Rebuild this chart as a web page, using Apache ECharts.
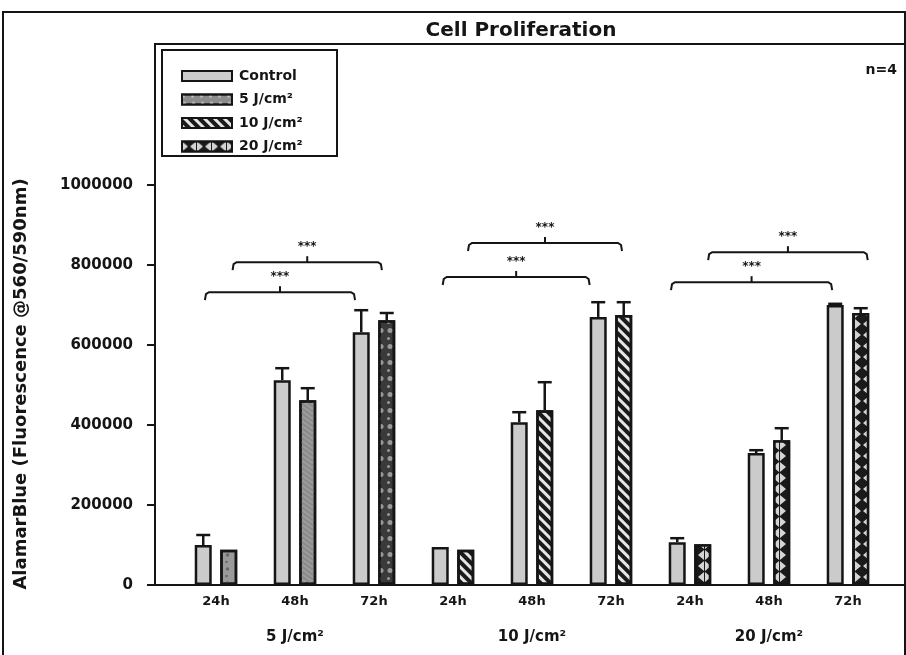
<!DOCTYPE html>
<html>
<head>
<meta charset="utf-8">
<script src="https://cdn.jsdelivr.net/npm/echarts@6/dist/echarts.min.js"></script>
<style>html,body{margin:0;padding:0;background:#fff;}#chart{width:906px;height:655px;}</style>
</head>
<body>
<div id="chart"></div>
<script>
// ---- data ----
var timeLabels = ['24h', '48h', '72h', '24h', '48h', '72h', '24h', '48h', '72h'];
var groupLabels = ['5 J/cm²', '10 J/cm²', '20 J/cm²'];
var seriesNames = ['Control', '5 J/cm²', '10 J/cm²', '20 J/cm²'];
var controlMean = [100000, 512000, 632000, 95000, 407000, 670000, 107000, 330000, 700000];
var controlErr  = [25000, 30000, 55000, 0, 25000, 37000, 10000, 7000, 3000];
var treatedMean = [88000, 462000, 662000, 88000, 437000, 675000, 102000, 362000, 680000];
var treatedErr  = [0, 30000, 18000, 0, 70000, 32000, 0, 30000, 12000];
var treatedGroupOf = [0, 0, 0, 1, 1, 1, 2, 2, 2];
var yTicks = [0, 200000, 400000, 600000, 800000, 1000000];
// significance brackets: [from, to, level]
var bracketFrom  = [-0.14, 0.21, 2.87, 3.19, 5.76, 6.23];
var bracketTo    = [1.76, 2.10, 4.73, 5.14, 7.80, 8.25];
var bracketLevel = [732000, 807000, 770000, 855000, 757000, 832000];
var bracketText  = ['***', '***', '***', '***', '***', '***'];
var yAxisName = 'AlamarBlue (Fluorescence @560/590nm)';
var nText = 'n=4';

var positions = timeLabels.map(function (_, i) { return i; });

var FONT = 'DejaVu Sans';
var INK = '#151515';
var BW = 17;
var GAPFRAC = 0.5;
var OFF = (BW + BW * GAPFRAC) / 2;

var triPath = 'path://M0,1 L6,6 L0,11 Z M14,1 L14,11 L8,6 Z';

var styles = [
  { color: '#cbcbcb', borderColor: INK, borderWidth: 2.5 },
  { color: '#8c8c8c', borderColor: INK, borderWidth: 2.5,
    decal: { symbol: 'circle', symbolSize: 0.9, color: '#c4c4c4', dashArrayX: [[5, 4], [3, 6]], dashArrayY: [4, 3] } },
  { color: '#e6e6e6', borderColor: INK, borderWidth: 2.5,
    decal: { symbol: 'rect', symbolSize: 1, color: '#1a1a1a', dashArrayX: [1, 0], dashArrayY: [4, 3], rotation: Math.PI / 4 } },
  { color: '#1a1a1a', borderColor: INK, borderWidth: 2.5,
    decal: { symbol: triPath, symbolSize: 1, color: '#d4d4d4', dashArrayX: [14, 1], dashArrayY: [10, 1] } }
];

// per-item variants of 5 J/cm² bars
var fiveJItem = [
  { color: '#9a9a9a', decal: { symbol: 'circle', symbolSize: 0.9, color: '#6a6a6a', dashArrayX: [[5, 4], [3, 6]], dashArrayY: [4, 3] } },
  { color: '#9c9c9c', decal: { symbol: 'rect', symbolSize: 1, color: '#8a8a8a', dashArrayX: [1, 0], dashArrayY: [2, 2], rotation: Math.PI / 5 } },
  { color: '#3a3a3a', decal: { symbol: 'circle', symbolSize: 1, color: '#9a9a9a', dashArrayX: [[6, 3], [3, 6]], dashArrayY: [5, 3] } }
];

function treatedData(g) {
  return positions.map(function (p, i) {
    if (treatedGroupOf[i] !== g) return [p, '-'];
    var item = { value: [p, treatedMean[i]] };
    if (g === 0) {
      var s = fiveJItem[i % 3];
      item.itemStyle = { color: s.color, decal: s.decal, borderColor: INK, borderWidth: 2.5 };
    }
    return item;
  });
}

var errData = [];
positions.forEach(function (p, i) {
  errData.push([p, controlMean[i], controlErr[i], -1]);
  errData.push([p, treatedMean[i], treatedErr[i], 1]);
});

var bracketData = bracketFrom.map(function (f, i) {
  return [f, bracketTo[i], bracketLevel[i], i];
});

var chart = echarts.init(document.getElementById('chart'));

var series = [
  {
    name: seriesNames[0], type: 'bar', barWidth: BW, barGap: '50%',
    itemStyle: styles[0],
    data: positions.map(function (p, i) { return [p, controlMean[i]]; })
  }
];
[1, 2, 3].forEach(function (k) {
  series.push({
    name: seriesNames[k], type: 'bar', stack: 'treated', barWidth: BW, barGap: '50%',
    itemStyle: styles[k],
    data: treatedData(k - 1)
  });
});
series.push({
  type: 'custom', z: 5, silent: true,
  encode: { x: 0, y: 1 },
  data: errData,
  renderItem: function (params, api) {
    var x = api.value(0), m = api.value(1), e = api.value(2), side = api.value(3);
    if (!(e > 0)) return;
    var p = api.coord([x, m]);
    var q = api.coord([x, m + e]);
    var cx = p[0] + side * OFF;
    return {
      type: 'group',
      children: [
        { type: 'line', shape: { x1: cx, y1: p[1], x2: cx, y2: q[1] }, style: { stroke: INK, lineWidth: 2.5 } },
        { type: 'line', shape: { x1: cx - 7, y1: q[1], x2: cx + 7, y2: q[1] }, style: { stroke: INK, lineWidth: 2.5 } }
      ]
    };
  }
});
series.push({
  type: 'custom', z: 5, silent: true,
  encode: { x: [0, 1], y: 2 },
  data: bracketData,
  renderItem: function (params, api) {
    var x1 = api.value(0), x2 = api.value(1), lv = api.value(2), idx = api.value(3);
    var a = api.coord([x1, lv]);
    var b = api.coord([x2, lv]);
    var y = a[1];
    var xm = (a[0] + b[0]) / 2;
    return {
      type: 'group',
      children: [
        { type: 'polyline', shape: { points: [[a[0], y + 8], [a[0] + 1, y + 2], [a[0] + 4, y], [b[0] - 4, y], [b[0] - 1, y + 2], [b[0], y + 8]] },
          style: { stroke: INK, lineWidth: 2, fill: null } },
        { type: 'line', shape: { x1: xm, y1: y, x2: xm, y2: y - 6 }, style: { stroke: INK, lineWidth: 2 } },
        { type: 'text', style: { text: bracketText[idx], x: xm, y: y - 9, align: 'center', verticalAlign: 'bottom',
          font: 'bold 12px "' + FONT + '"', fill: INK } }
      ]
    };
  }
});

chart.setOption({
  animation: false,
  backgroundColor: '#fff',
  title: {
    text: 'Cell Proliferation', left: 516, top: 16, textAlign: 'center',
    textStyle: { fontFamily: FONT, fontWeight: 'bold', fontSize: 20, color: INK }
  },
  legend: {
    data: seriesNames, orient: 'vertical', left: 176, top: 64,
    icon: 'rect', itemWidth: 50, itemHeight: 10, itemGap: 9.5,
    selectedMode: false,
    textStyle: { fontFamily: FONT, fontWeight: 'bold', fontSize: 14, color: INK, padding: [0, 0, 0, 2] }
  },
  grid: {
    left: 155, right: 1, top: 44, bottom: 70,
    show: true, borderColor: INK, borderWidth: 2, backgroundColor: 'transparent'
  },
  xAxis: [
    {
      type: 'value', min: -0.772, max: 8.722,
      splitLine: { show: false },
      axisLine: { show: true, onZero: false, lineStyle: { color: INK, width: 2 } },
      axisTick: { show: false },
      axisLabel: {
        customValues: positions, margin: 10,
        formatter: function (v) { return timeLabels[Math.round(v)]; },
        fontFamily: FONT, fontWeight: 'bold', fontSize: 13, color: INK
      }
    },
    {
      type: 'value', min: -0.772, max: 8.722, position: 'bottom',
      splitLine: { show: false }, axisLine: { show: false, onZero: false }, axisTick: { show: false },
      axisLabel: {
        customValues: [1, 4, 7], margin: 45,
        formatter: function (v) { return groupLabels[Math.round((v - 1) / 3)]; },
        fontFamily: FONT, fontWeight: 'bold', fontSize: 15, color: INK
      }
    }
  ],
  yAxis: {
    type: 'value', min: 0, max: 1352500,
    splitLine: { show: false },
    axisLine: { show: true, onZero: false, lineStyle: { color: INK, width: 2 } },
    axisTick: { show: true, customValues: yTicks, length: 8, lineStyle: { color: INK, width: 2 } },
    axisLabel: {
      customValues: yTicks, margin: 22,
      formatter: function (v) { return String(v); },
      fontFamily: FONT, fontWeight: 'bold', fontSize: 15, color: INK
    }
  },
  graphic: [
    { type: 'rect', silent: true, z: 0, shape: { x: 3, y: 12, width: 902, height: 660 }, style: { fill: null, stroke: INK, lineWidth: 2 } },
    { type: 'rect', silent: true, z: 10, shape: { x: 162, y: 50, width: 175, height: 106 }, style: { fill: null, stroke: INK, lineWidth: 2 } },
    { type: 'text', silent: true, z: 10, right: 9, top: 63, style: { text: nText, font: 'bold 14px "' + FONT + '"', fill: INK } },
    { type: 'text', silent: true, z: 10, x: 21, y: 384, rotation: Math.PI / 2,
      style: { text: yAxisName, font: 'bold 18px "' + FONT + '"', fill: INK, align: 'center', verticalAlign: 'middle' } }
  ],
  series: series
});
</script>
</body>
</html>
